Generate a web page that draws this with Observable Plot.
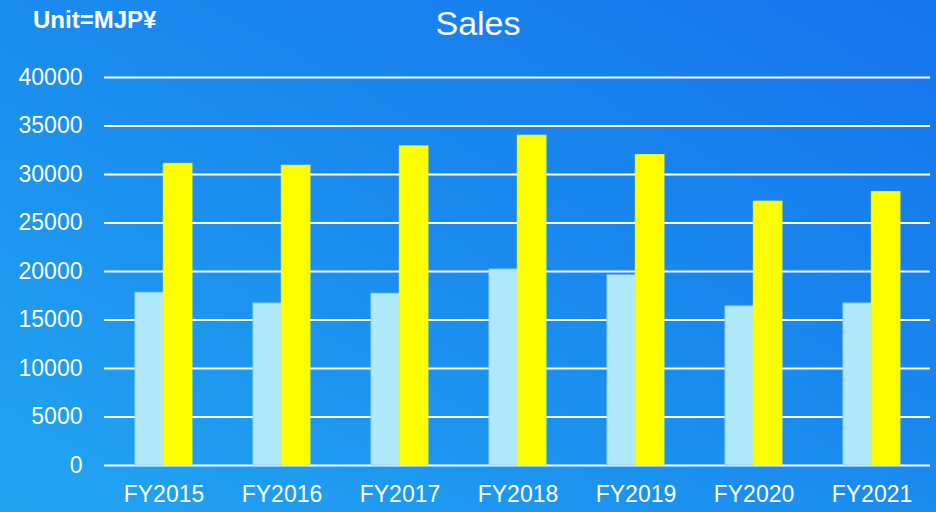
<!DOCTYPE html>
<html>
<head>
<meta charset="utf-8">
<script src="https://cdn.jsdelivr.net/npm/d3@7"></script>
<script src="https://cdn.jsdelivr.net/npm/@observablehq/plot@0.6"></script>
<style>
  html, body { margin: 0; padding: 0; }
  #wrap {
    position: relative; width: 936px; height: 512px; overflow: hidden;
    background: linear-gradient(to top right, #21a5f1, #1a8bef 50%, #1574ee);
    font-family: "Liberation Sans", Arial, sans-serif; color: #fff;
  }
  #chart { position: absolute; left: 0; top: 0; }
  #title {
    position: absolute; left: 478px; top: 6px; transform: translateX(-50%);
    font-size: 34px; line-height: 34px; white-space: nowrap;
  }
  #unit {
    position: absolute; left: 33px; top: 8px;
    font-size: 24px; line-height: 24px; font-weight: bold; white-space: nowrap;
  }
</style>
</head>
<body>
<div id="wrap">
  <div id="chart"></div>
  <div id="title">Sales</div>
  <div id="unit">Unit=MJP¥</div>
</div>
<script>
const years = ["FY2015", "FY2016", "FY2017", "FY2018", "FY2019", "FY2020", "FY2021"];
const seriesA = [17800, 16700, 17700, 20200, 19600, 16400, 16700];
const seriesB = [31100, 30900, 32900, 34000, 32000, 27200, 28200];
const yTicks = [0, 5000, 10000, 15000, 20000, 25000, 30000, 35000, 40000];

const dataA = years.map((year, i) => ({year, value: seriesA[i]}));
const dataB = years.map((year, i) => ({year, value: seriesB[i]}));

const W = 936, H = 512, ML = 104, MR = 6;
const pInner = 0.52, pOuter = 0.26;
const step = (W - ML - MR) / (years.length - pInner + 2 * pOuter);
const half = step * (1 - pInner) / 2;

const chart = Plot.plot({
  width: W,
  height: H,
  marginLeft: ML,
  marginRight: MR,
  marginTop: 77,
  marginBottom: 47,
  style: {background: "transparent", color: "#fff", fontSize: "23px", fontFamily: "'Liberation Sans', Arial, sans-serif", overflow: "visible"},
  x: {type: "band", domain: years, paddingInner: pInner, paddingOuter: pOuter},
  y: {domain: [0, 40000]},
  marks: [
    Plot.ruleY(yTicks, {stroke: "#fff", strokeWidth: 2}),
    Plot.barY(dataA, {x: "year", y: "value", insetRight: half, fill: "#afe9f9", stroke: "#8fd2f0", strokeWidth: 1}),
    Plot.barY(dataB, {x: "year", y: "value", insetLeft: half, fill: "#ffff00", stroke: "#e6f53c", strokeWidth: 1}),
    Plot.axisY({ticks: yTicks, tickSize: 0, tickPadding: 22, tickFormat: d => String(d), label: null, fill: "#fff"}),
    Plot.axisX({tickSize: 0, tickPadding: 20, label: null, fill: "#fff"})
  ]
});
document.getElementById("chart").appendChild(chart);
</script>
</body>
</html>
